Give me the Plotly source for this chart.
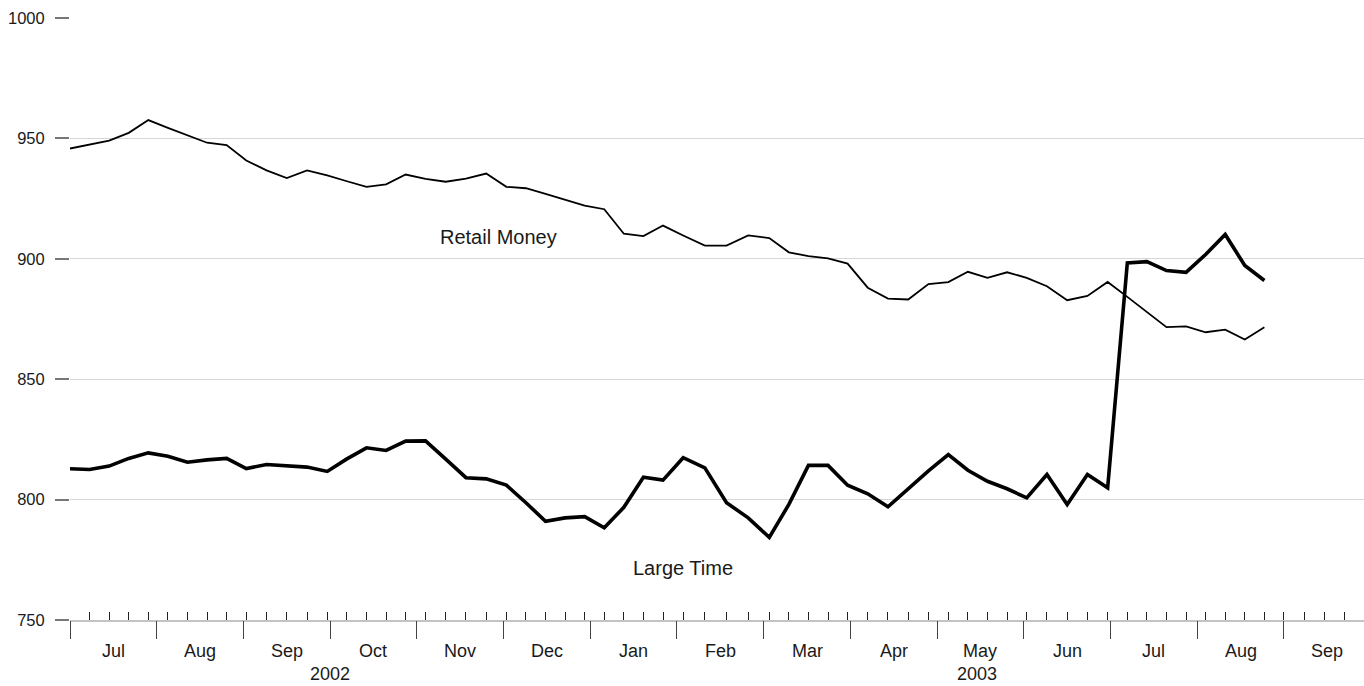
import calendar
import datetime as dt
import plotly.graph_objects as go

# ---------------- data ----------------
week_dates = [
    "2002-07-01", "2002-07-08", "2002-07-15", "2002-07-22", "2002-07-29",
    "2002-08-05", "2002-08-12", "2002-08-19", "2002-08-26",
    "2002-09-02", "2002-09-09", "2002-09-16", "2002-09-23", "2002-09-30",
    "2002-10-07", "2002-10-14", "2002-10-21", "2002-10-28",
    "2002-11-04", "2002-11-11", "2002-11-18", "2002-11-25",
    "2002-12-02", "2002-12-09", "2002-12-16", "2002-12-23", "2002-12-30",
    "2003-01-06", "2003-01-13", "2003-01-20", "2003-01-27",
    "2003-02-03", "2003-02-10", "2003-02-17", "2003-02-24",
    "2003-03-03", "2003-03-10", "2003-03-17", "2003-03-24", "2003-03-31",
    "2003-04-07", "2003-04-14", "2003-04-21", "2003-04-28",
    "2003-05-05", "2003-05-12", "2003-05-19", "2003-05-26",
    "2003-06-02", "2003-06-09", "2003-06-16", "2003-06-23", "2003-06-30",
    "2003-07-07", "2003-07-14", "2003-07-21", "2003-07-28",
    "2003-08-04", "2003-08-11", "2003-08-18", "2003-08-25",
]

retail_money = [
    945.8, 947.5, 949.1, 952.3, 957.6, 954.4, 951.2, 948.2, 947.2, 940.8,
    936.7, 933.5, 936.7, 934.6, 932.2, 929.9, 930.9, 935.0, 933.2, 932.0,
    933.3, 935.4, 929.9, 929.3, 927.0, 924.6, 922.1, 920.6, 910.4, 909.4,
    913.8, 909.7, 905.5, 905.5, 909.7, 908.6, 902.7, 901.1, 900.2, 898.0,
    888.0, 883.5, 883.1, 889.5, 890.3, 894.6, 892.1, 894.4, 892.1, 888.6,
    882.8, 884.6, 890.4, 884.2, 878.0, 871.6, 871.9, 869.5, 870.6, 866.5,
    871.6,
]

large_time = [
    812.8, 812.5, 813.9, 817.1, 819.4, 818.0, 815.5, 816.5, 817.1, 812.9,
    814.6, 814.2, 813.5, 811.7, 816.9, 821.5, 820.4, 824.3, 824.4, 816.8,
    809.1, 808.6, 806.0, 798.7, 791.0, 792.4, 792.9, 788.3, 796.8, 809.3,
    808.1, 817.4, 813.2, 798.7, 792.4, 784.3, 798.0, 814.2, 814.2, 806.0,
    802.4, 797.0, 804.7, 811.9, 818.7, 812.2, 807.6, 804.5, 800.7, 810.4,
    798.0, 810.4, 804.9, 898.3, 898.8, 895.1, 894.4, 901.8, 910.1, 897.2,
    891.0,
]

month_labels = ["Jul", "Aug", "Sep", "Oct", "Nov", "Dec",
                "Jan", "Feb", "Mar", "Apr", "May", "Jun",
                "Jul", "Aug", "Sep"]
year_labels = ["2002", "2003"]
y_ticks = [750, 800, 850, 900, 950, 1000]

# ---------------- month-uniform time scale ----------------
START_YEAR, START_MONTH = 2002, 7
XMAX = 14.923  # visible end of the axis (in months since Jul 2002)


def month_pos(d):
    m = (d.year - START_YEAR) * 12 + d.month - START_MONTH
    ndays = calendar.monthrange(d.year, d.month)[1]
    return m + (d.day - 1) / ndays


dates = [dt.date.fromisoformat(s) for s in week_dates]
xs = [month_pos(d) for d in dates]

# weekly (Monday) minor ticks and monthly major ticks
week_ticks = []
d = dates[0]
while month_pos(d) <= XMAX:
    week_ticks.append(month_pos(d))
    d += dt.timedelta(days=7)
month_ticks = list(range(0, 16))

FONT = "Liberation Sans, Arial, Helvetica, sans-serif"
TXT = "#1a1a1a"

fig = go.Figure()
fig.add_trace(go.Scatter(x=xs, y=retail_money, mode="lines", name="Retail Money",
                         line=dict(color="black", width=1.8), showlegend=False))
fig.add_trace(go.Scatter(x=xs, y=large_time, mode="lines", name="Large Time",
                         line=dict(color="black", width=3.6), showlegend=False))
# helper trace so the month-tick axis is drawn
fig.add_trace(go.Scatter(x=[], y=[], xaxis="x2", yaxis="y", showlegend=False,
                         hoverinfo="skip"))

annotations = []
for i, lab in enumerate(month_labels):
    annotations.append(dict(x=i + 0.5, y=-0.0507, xref="x", yref="paper", text=lab,
                            showarrow=False, font=dict(size=18, color=TXT, family=FONT),
                            xanchor="center", yanchor="middle"))
# year labels centred on the visible span of each year
year_spans = [(0, 6), (6, XMAX)]
for lab, (a, b) in zip(year_labels, year_spans):
    annotations.append(dict(x=(a + b) / 2, y=-0.0895, xref="x", yref="paper", text=lab,
                            showarrow=False, font=dict(size=18, color=TXT, family=FONT),
                            xanchor="center", yanchor="middle", borderpad=0))
annotations.append(dict(x=4.94, y=909.0, xref="x", yref="y", text="Retail Money",
                        showarrow=False, font=dict(size=20, color=TXT, family=FONT),
                        xanchor="center", yanchor="middle"))
annotations.append(dict(x=7.07, y=771.8, xref="x", yref="y", text="Large Time",
                        showarrow=False, font=dict(size=20, color=TXT, family=FONT),
                        xanchor="center", yanchor="middle"))

fig.update_layout(
    width=1364, height=686,
    margin=dict(l=70, r=0, t=18, b=66),
    paper_bgcolor="white", plot_bgcolor="white",
    font=dict(family=FONT, size=17, color=TXT),
    showlegend=False,
    xaxis=dict(range=[0, XMAX], tickmode="array", tickvals=week_ticks,
               ticks="inside", ticklen=8, tickwidth=1, tickcolor="#222",
               showticklabels=False, showline=True, linecolor="#c4c4c4", linewidth=1.5,
               showgrid=False, zeroline=False, fixedrange=True),
    xaxis2=dict(range=[0, XMAX], overlaying="x", anchor="y", side="bottom",
                tickmode="array", tickvals=month_ticks,
                ticks="outside", ticklen=18, tickwidth=1, tickcolor="#444",
                showticklabels=False, showline=False, showgrid=False,
                zeroline=False, fixedrange=True),
    yaxis=dict(range=[750, 1000], tickmode="array", tickvals=y_ticks,
               ticks="outside", ticklen=14, tickwidth=1.5, tickcolor="#777",
               ticklabelstandoff=7,
               showgrid=True, gridcolor="#d6d6d6", gridwidth=1,
               zeroline=False, showline=False,
               tickfont=dict(size=16.5, color=TXT, family=FONT), fixedrange=True),
    annotations=annotations,
)

# the chart fills the whole 1364x686 page, so drop the default body margin
fig.write_html("out.html",
               config={"displayModeBar": False},
               post_script="document.body.style.margin='0';document.body.style.overflow='hidden';")
